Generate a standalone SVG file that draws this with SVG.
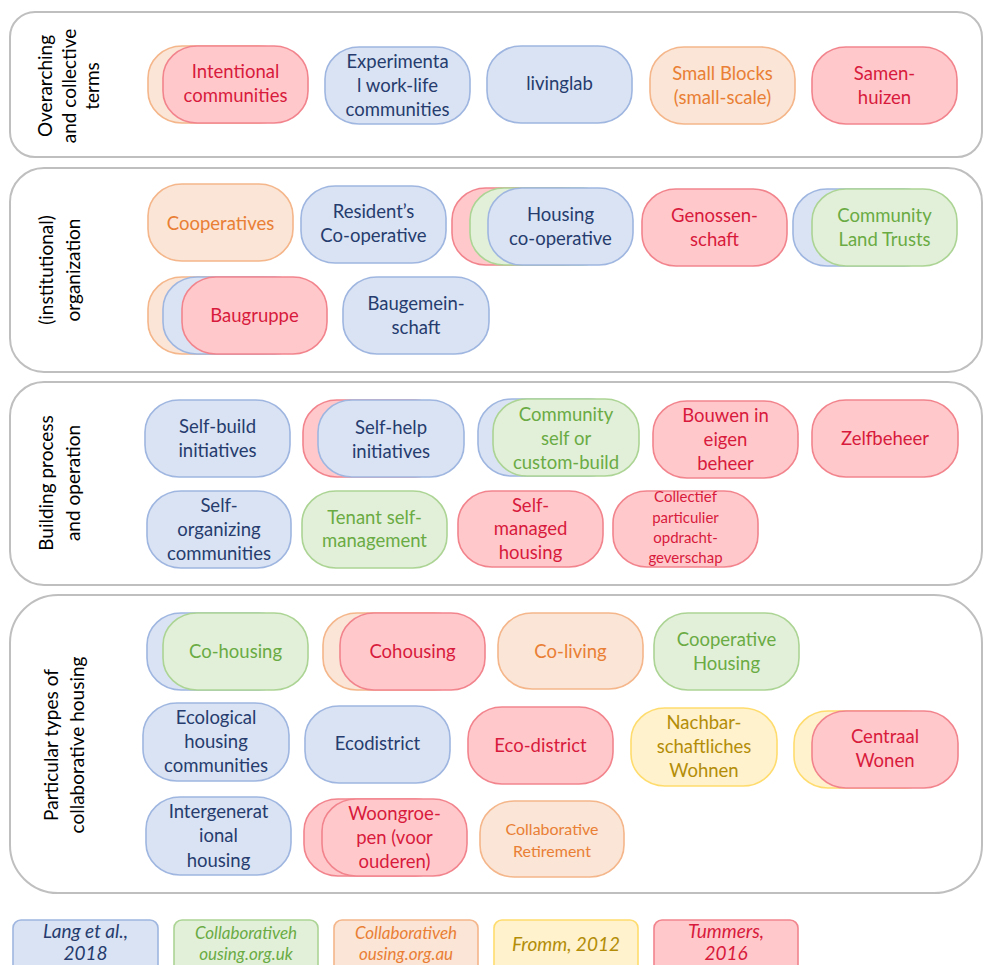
<svg xmlns="http://www.w3.org/2000/svg" width="984" height="965" viewBox="0 0 984 965">
  <style>
    .panel { fill: #ffffff; stroke: #bfbfbf; stroke-width: 2; }
    .pill { stroke-width: 1.6; }
    .b { fill: #dae3f3; stroke: #9fb6e0; }
    .g { fill: #e2f0d9; stroke: #acd494; }
    .o { fill: #fbe5d6; stroke: #f4b68a; }
    .y { fill: #fff2cc; stroke: #ffdc6e; }
    .r { fill: #ffc9cc; stroke: #f2848d; }
    text { font-family: Lato, "Open Sans", "Liberation Sans", sans-serif; font-size: 18.5px; text-anchor: middle; }
    .side { fill: #000000; font-size: 19px; }
    .tb { fill: #263c6e; }
    .tg { fill: #6aab44; }
    .to { fill: #e97f35; }
    .ty { fill: #b38d08; }
    .tr { fill: #d81b3c; }
    .small { font-size: 15px; }
    .leg { font-style: italic; font-size: 19px; }
    .legs { font-style: italic; font-size: 17px; }
  </style>

  <!-- category panels -->
  <g id="panels">
    <rect class="panel" x="10" y="12" width="972" height="145" rx="25"/>
    <rect class="panel" x="10" y="168" width="972" height="204" rx="34"/>
    <rect class="panel" x="10" y="382" width="972" height="203" rx="34"/>
    <rect class="panel" x="10" y="595" width="972" height="298" rx="48"/>
  </g>

  <!-- rotated category headings -->
  <g id="headings">
    <text class="side" transform="translate(0,86) rotate(-90)"><tspan x="0" y="52">Overarching</tspan><tspan x="0" y="76">and collective</tspan><tspan x="0" y="99">terms</tspan></text>
    <text class="side" transform="translate(0,270) rotate(-90)"><tspan x="0" y="53">(institutional)</tspan><tspan x="0" y="80">organization</tspan></text>
    <text class="side" transform="translate(0,483) rotate(-90)"><tspan x="0" y="53">Building process</tspan><tspan x="0" y="80">and operation</tspan></text>
    <text class="side" transform="translate(0,745) rotate(-90)"><tspan x="0" y="58">Particular types of</tspan><tspan x="0" y="84">collaborative housing</tspan></text>
  </g>

  <!-- Overarching and collective terms -->
  <g id="intentional-communities">
    <rect class="pill o" x="148" y="46" width="145" height="77" rx="34" ry="32"/>
    <rect class="pill r" x="163" y="46" width="145" height="77" rx="34" ry="32"/>
    <text class="tr"><tspan x="235.5" y="78">Intentional</tspan><tspan x="235.5" y="102">communities</tspan></text>
  </g>
  <g id="experimental-communities">
    <rect class="pill b" x="325" y="47" width="145" height="77" rx="34" ry="32"/>
    <text class="tb"><tspan x="397.5" y="68">Experimenta</tspan><tspan x="397.5" y="92">l work-life</tspan><tspan x="397.5" y="116">communities</tspan></text>
  </g>
  <g id="livinglab">
    <rect class="pill b" x="487" y="46" width="145" height="77" rx="34" ry="32"/>
    <text class="tb" x="559.5" y="90">livinglab</text>
  </g>
  <g id="small-blocks">
    <rect class="pill o" x="650" y="47" width="145" height="77" rx="34" ry="32"/>
    <text class="to"><tspan x="722.5" y="80">Small Blocks</tspan><tspan x="722.5" y="104">(small-scale)</tspan></text>
  </g>
  <g id="samenhuizen">
    <rect class="pill r" x="812" y="47" width="145" height="77" rx="34" ry="32"/>
    <text class="tr"><tspan x="884.5" y="80">Samen-</tspan><tspan x="884.5" y="104">huizen</tspan></text>
  </g>

  <!-- (institutional) organization -->
  <g id="cooperatives">
    <rect class="pill o" x="148" y="184" width="145" height="77" rx="34" ry="32"/>
    <text class="to" x="220.5" y="230">Cooperatives</text>
  </g>
  <g id="residents-cooperative">
    <rect class="pill b" x="301" y="186" width="145" height="77" rx="34" ry="32"/>
    <text class="tb"><tspan x="373.5" y="218">Resident’s</tspan><tspan x="373.5" y="242">Co-operative</tspan></text>
  </g>
  <g id="housing-cooperative">
    <rect class="pill r" x="452" y="188" width="145" height="77" rx="34" ry="32"/>
    <rect class="pill g" x="470" y="188" width="145" height="77" rx="34" ry="32"/>
    <rect class="pill b" x="488" y="188" width="145" height="77" rx="34" ry="32"/>
    <text class="tb"><tspan x="560.5" y="221">Housing</tspan><tspan x="560.5" y="245">co-operative</tspan></text>
  </g>
  <g id="genossenschaft">
    <rect class="pill r" x="642" y="189" width="145" height="77" rx="34" ry="32"/>
    <text class="tr"><tspan x="714.5" y="222">Genossen-</tspan><tspan x="714.5" y="246">schaft</tspan></text>
  </g>
  <g id="community-land-trusts">
    <rect class="pill b" x="793" y="189" width="145" height="77" rx="34" ry="32"/>
    <rect class="pill g" x="812" y="189" width="145" height="77" rx="34" ry="32"/>
    <text class="tg"><tspan x="884.5" y="222">Community</tspan><tspan x="884.5" y="246">Land Trusts</tspan></text>
  </g>
  <g id="baugruppe">
    <rect class="pill o" x="148" y="277" width="145" height="77" rx="34" ry="32"/>
    <rect class="pill b" x="163" y="277" width="145" height="77" rx="34" ry="32"/>
    <rect class="pill r" x="182" y="277" width="145" height="77" rx="34" ry="32"/>
    <text class="tr" x="254.5" y="322">Baugruppe</text>
  </g>
  <g id="baugemeinschaft">
    <rect class="pill b" x="343" y="277" width="146" height="77" rx="34" ry="32"/>
    <text class="tb"><tspan x="416" y="310">Baugemein-</tspan><tspan x="416" y="334">schaft</tspan></text>
  </g>

  <!-- Building process and operation -->
  <g id="self-build">
    <rect class="pill b" x="145" y="400" width="145" height="77" rx="34" ry="32"/>
    <text class="tb"><tspan x="217.5" y="433">Self-build</tspan><tspan x="217.5" y="457">initiatives</tspan></text>
  </g>
  <g id="self-help">
    <rect class="pill r" x="303" y="400" width="145" height="77" rx="34" ry="32"/>
    <rect class="pill b" x="318" y="400" width="146" height="77" rx="34" ry="32"/>
    <text class="tb"><tspan x="391" y="434">Self-help</tspan><tspan x="391" y="458">initiatives</tspan></text>
  </g>
  <g id="community-self-build">
    <rect class="pill b" x="478" y="399" width="145" height="77" rx="34" ry="32"/>
    <rect class="pill g" x="493" y="399" width="146" height="77" rx="34" ry="32"/>
    <text class="tg"><tspan x="566" y="421">Community</tspan><tspan x="566" y="445">self or</tspan><tspan x="566" y="469">custom-build</tspan></text>
  </g>
  <g id="bouwen-in-eigen-beheer">
    <rect class="pill r" x="653" y="401" width="145" height="77" rx="34" ry="32"/>
    <text class="tr"><tspan x="725.5" y="422">Bouwen in</tspan><tspan x="725.5" y="446">eigen</tspan><tspan x="725.5" y="470">beheer</tspan></text>
  </g>
  <g id="zelfbeheer">
    <rect class="pill r" x="812" y="400" width="146" height="77" rx="34" ry="32"/>
    <text class="tr" x="885" y="445">Zelfbeheer</text>
  </g>
  <g id="self-organizing">
    <rect class="pill b" x="147" y="491" width="144" height="77" rx="34" ry="32"/>
    <text class="tb"><tspan x="219" y="512">Self-</tspan><tspan x="219" y="536">organizing</tspan><tspan x="219" y="560">communities</tspan></text>
  </g>
  <g id="tenant-self-management">
    <rect class="pill g" x="302" y="491" width="145" height="77" rx="34" ry="32"/>
    <text class="tg"><tspan x="374.5" y="524">Tenant self-</tspan><tspan x="374.5" y="547">management</tspan></text>
  </g>
  <g id="self-managed-housing">
    <rect class="pill r" x="458" y="491" width="145" height="76" rx="34" ry="32"/>
    <text class="tr"><tspan x="530.5" y="512">Self-</tspan><tspan x="530.5" y="535">managed</tspan><tspan x="530.5" y="559">housing</tspan></text>
  </g>
  <g id="collectief-particulier">
    <rect class="pill r" x="613" y="491" width="145" height="76" rx="34" ry="32"/>
    <text class="tr small"><tspan x="685.5" y="502">Collectief</tspan><tspan x="685.5" y="523">particulier</tspan><tspan x="685.5" y="543">opdracht-</tspan><tspan x="685.5" y="563">geverschap</tspan></text>
  </g>

  <!-- Particular types of collaborative housing -->
  <g id="co-housing">
    <rect class="pill b" x="147" y="613" width="145" height="77" rx="34" ry="32"/>
    <rect class="pill g" x="163" y="613" width="145" height="77" rx="34" ry="32"/>
    <text class="tg" x="235.5" y="658">Co-housing</text>
  </g>
  <g id="cohousing">
    <rect class="pill o" x="323" y="613" width="145" height="77" rx="34" ry="32"/>
    <rect class="pill r" x="340" y="613" width="145" height="77" rx="34" ry="32"/>
    <text class="tr" x="412.5" y="658">Cohousing</text>
  </g>
  <g id="co-living">
    <rect class="pill o" x="498" y="613" width="145" height="76" rx="34" ry="32"/>
    <text class="to" x="570.5" y="658">Co-living</text>
  </g>
  <g id="cooperative-housing">
    <rect class="pill g" x="654" y="613" width="145" height="77" rx="34" ry="32"/>
    <text class="tg"><tspan x="726.5" y="646">Cooperative</tspan><tspan x="726.5" y="670">Housing</tspan></text>
  </g>
  <g id="ecological-housing">
    <rect class="pill b" x="143" y="703" width="146" height="78" rx="34" ry="32"/>
    <text class="tb"><tspan x="216" y="724">Ecological</tspan><tspan x="216" y="748">housing</tspan><tspan x="216" y="772">communities</tspan></text>
  </g>
  <g id="ecodistrict">
    <rect class="pill b" x="305" y="706" width="145" height="77" rx="34" ry="32"/>
    <text class="tb" x="377.5" y="750">Ecodistrict</text>
  </g>
  <g id="eco-district">
    <rect class="pill r" x="468" y="707" width="145" height="77" rx="34" ry="32"/>
    <text class="tr" x="540.5" y="752">Eco-district</text>
  </g>
  <g id="nachbarschaftliches-wohnen">
    <rect class="pill y" x="631" y="708" width="146" height="78" rx="34" ry="32"/>
    <text class="ty"><tspan x="704" y="729">Nachbar-</tspan><tspan x="704" y="753">schaftliches</tspan><tspan x="704" y="777">Wohnen</tspan></text>
  </g>
  <g id="centraal-wonen">
    <rect class="pill y" x="794" y="711" width="145" height="77" rx="34" ry="32"/>
    <rect class="pill r" x="812" y="711" width="146" height="77" rx="34" ry="32"/>
    <text class="tr"><tspan x="885" y="743">Centraal</tspan><tspan x="885" y="767">Wonen</tspan></text>
  </g>
  <g id="intergenerational-housing">
    <rect class="pill b" x="146" y="797" width="145" height="78" rx="34" ry="32"/>
    <text class="tb"><tspan x="218.5" y="818">Intergenerat</tspan><tspan x="218.5" y="842">ional</tspan><tspan x="218.5" y="867">housing</tspan></text>
  </g>
  <g id="woongroepen">
    <rect class="pill r" x="304" y="799" width="145" height="77" rx="34" ry="32"/>
    <rect class="pill r" x="322" y="799" width="145" height="77" rx="34" ry="32"/>
    <text class="tr"><tspan x="394.5" y="820">Woongroe-</tspan><tspan x="394.5" y="844">pen (voor</tspan><tspan x="394.5" y="868">ouderen)</tspan></text>
  </g>
  <g id="collaborative-retirement">
    <rect class="pill o" x="480" y="801" width="144" height="76" rx="34" ry="32"/>
    <text class="to" style="font-size:16px"><tspan x="552" y="835">Collaborative</tspan><tspan x="552" y="857">Retirement</tspan></text>
  </g>

  <!-- source legend -->
  <g id="legend">
    <g id="legend-lang">
      <rect class="pill b" x="13" y="920" width="145" height="62" rx="8"/>
      <text class="tb leg"><tspan x="85.5" y="938">Lang et al.,</tspan><tspan x="85.5" y="960">2018</tspan></text>
    </g>
    <g id="legend-uk">
      <rect class="pill g" x="174" y="920" width="144" height="62" rx="8"/>
      <text class="tg legs"><tspan x="246" y="939">Collaborativeh</tspan><tspan x="246" y="960">ousing.org.uk</tspan></text>
    </g>
    <g id="legend-au">
      <rect class="pill o" x="334" y="920" width="144" height="62" rx="8"/>
      <text class="to legs"><tspan x="406" y="939">Collaborativeh</tspan><tspan x="406" y="960">ousing.org.au</tspan></text>
    </g>
    <g id="legend-fromm">
      <rect class="pill y" x="494" y="920" width="144" height="62" rx="8"/>
      <text class="ty leg" x="566" y="951">Fromm, 2012</text>
    </g>
    <g id="legend-tummers">
      <rect class="pill r" x="654" y="920" width="144" height="62" rx="8"/>
      <text class="tr leg"><tspan x="726" y="938">Tummers,</tspan><tspan x="726" y="960">2016</tspan></text>
    </g>
  </g>
</svg>
